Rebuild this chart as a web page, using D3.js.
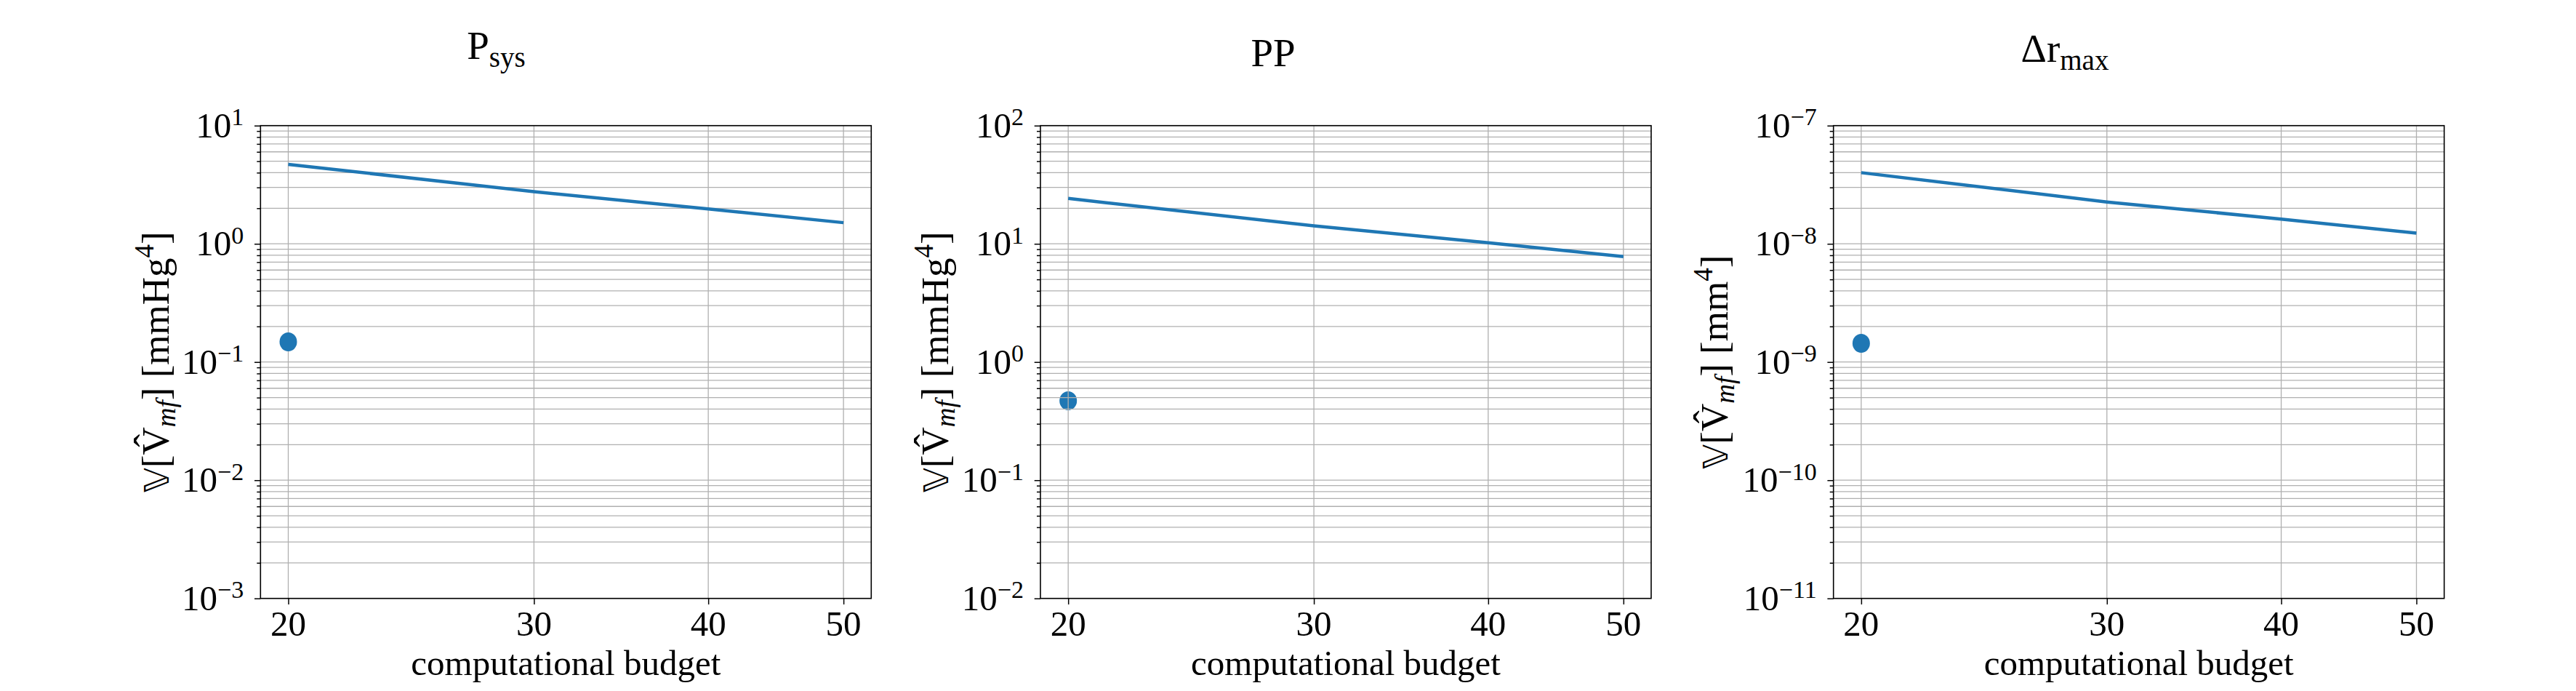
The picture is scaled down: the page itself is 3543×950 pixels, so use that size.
<!DOCTYPE html>
<html>
<head>
<meta charset="utf-8">
<script src="https://cdn.jsdelivr.net/npm/d3@7"></script>
<style>
  html, body { margin: 0; padding: 0; background: #fff; }
  svg { display: block; }
</style>
</head>
<body>
<svg id="chart" width="3543" height="950"></svg>
<script>
// ---------------- data ----------------
const budgets = [20, 30, 40, 50];
const xTickValues = [20, 30, 40, 50];
const dotBudget = [20];

const psysLine = [4.70, 2.76, 1.97, 1.51];
const psysDot = [0.148];
const ppLine = [24.2, 14.2, 10.2, 7.80];
const ppDot = [0.470];
const drLine = [4.0e-8, 2.26e-8, 1.62e-8, 1.23e-8];
const drDot = [1.44e-9];

const psysExp = [-3, 1];
const ppExp = [-2, 2];
const drExp = [-11, -7];

const titleMain = ["P", "PP", "\u0394r"];
const titleSub = ["sys", "", "max"];
const yUnit = ["mmHg", "mmHg", "mm"];
const xLabel = "computational budget";

// ---------------- layout ----------------
const svg = d3.select("#chart");
const serif = "'Liberation Serif', 'Times New Roman', serif";
const W = 840, H = 650, TOP = 172.7;
const panelLeft = [358.3, 1431, 2521.7];
const titleCx = [682.5, 1751, 2840];
const titleBase = [81, 91, 85];
const yLabelOff = [126.6, 126.6, 145.7];
const blue = "#1f77b4";
const gridCol = "#b0b0b0";

const panels = [
  {line: psysLine, dot: psysDot, exp: psysExp, dotUnder: false},
  {line: ppLine, dot: ppDot, exp: ppExp, dotUnder: true},
  {line: drLine, dot: drDot, exp: drExp, dotUnder: false}
];

const lx0 = Math.log10(d3.min(budgets)), lx1 = Math.log10(d3.max(budgets));
const m = 0.05 * (lx1 - lx0);

panels.forEach((p, i) => {
  const g = svg.append("g").attr("transform", `translate(${panelLeft[i]},${TOP})`);
  const x = d3.scaleLog().domain([Math.pow(10, lx0 - m), Math.pow(10, lx1 + m)]).range([0, W]);
  const y = d3.scaleLog().domain([Math.pow(10, p.exp[0]), Math.pow(10, p.exp[1])]).range([H, 0]);

  const majors = d3.range(p.exp[0], p.exp[1] + 1).map(e => Math.pow(10, e));
  const minors = [];
  for (let e = p.exp[0]; e < p.exp[1]; e++) for (let k = 2; k <= 9; k++) minors.push(k * Math.pow(10, e));

  const drawDot = () => g.append("g").selectAll("ellipse").data(dotBudget.map((b, j) => [b, p.dot[j]]))
    .join("ellipse").attr("cx", d => x(d[0])).attr("cy", d => y(d[1])).attr("rx", 12).attr("ry", 13).attr("fill", blue);

  if (p.dotUnder) drawDot();

  // grid
  const grid = g.append("g").attr("stroke", gridCol).attr("stroke-width", 1.3);
  grid.selectAll("line.h").data(majors.concat(minors)).join("line").attr("class", "h")
    .attr("x1", 0).attr("x2", W).attr("y1", d => y(d)).attr("y2", d => y(d));
  grid.selectAll("line.v").data(xTickValues).join("line").attr("class", "v")
    .attr("x1", d => x(d)).attr("x2", d => x(d)).attr("y1", 0).attr("y2", H);

  // line
  g.append("path").datum(budgets.map((b, j) => [b, p.line[j]]))
    .attr("fill", "none").attr("stroke", blue).attr("stroke-width", 4.5)
    .attr("d", d3.line().x(d => x(d[0])).y(d => y(d[1])));

  if (!p.dotUnder) drawDot();

  // axes ticks
  const yMaj = g.append("g").call(d3.axisLeft(y).tickValues(majors).tickSize(8.3).tickFormat(""));
  const yMin = g.append("g").call(d3.axisLeft(y).tickValues(minors).tickSize(5).tickFormat(""));
  const xAx = g.append("g").attr("transform", `translate(0,${H})`)
    .call(d3.axisBottom(x).tickValues(xTickValues).tickSize(8.3).tickFormat(""));
  [yMaj, yMin, xAx].forEach(a => {
    a.select(".domain").remove();
    a.selectAll(".tick line").attr("stroke", "#000").attr("stroke-width", 1.5);
  });

  // frame
  g.append("rect").attr("x", 0).attr("y", 0).attr("width", W).attr("height", H)
    .attr("fill", "none").attr("stroke", "#000").attr("stroke-width", 1.6);

  // y tick labels
  majors.forEach((v, k) => {
    const e = p.exp[0] + k;
    const t = g.append("text").attr("x", -23).attr("y", y(v) + 16)
      .attr("text-anchor", "end").attr("font-family", serif).attr("font-size", 49).attr("fill", "#000");
    t.append("tspan").text("10");
    t.append("tspan").attr("font-size", 34).attr("dy", -16.6).text(e < 0 ? "\u2212" + Math.abs(e) : String(e));
  });

  // x tick labels
  g.append("g").selectAll("text").data(xTickValues).join("text")
    .attr("x", d => x(d)).attr("y", H + 51.5).attr("text-anchor", "middle")
    .attr("font-family", serif).attr("font-size", 49).attr("fill", "#000").text(d => d);

  // x label
  g.append("text").attr("x", W / 2).attr("y", 928 - TOP).attr("text-anchor", "middle")
    .attr("font-family", serif).attr("font-size", 49).attr("fill", "#000").text(xLabel);

  // y label
  const yl = g.append("text").attr("transform", `translate(${-yLabelOff[i]},${H / 2}) rotate(-90)`)
    .attr("text-anchor", "middle").attr("font-family", serif).attr("font-size", 53).attr("fill", "#000");
  yl.append("tspan").attr("font-family", "'DejaVu Sans', sans-serif").attr("font-size", 47).text("\uD835\uDD4D");
  yl.append("tspan").text("[V\u0302");
  yl.append("tspan").attr("font-style", "italic").attr("font-size", 37).attr("dy", 9).text("mf");
  yl.append("tspan").attr("dy", -9).text("] [" + yUnit[i]);
  yl.append("tspan").attr("font-size", 37).attr("dy", -21).text("4");
  yl.append("tspan").attr("dy", 21).text("]");

  // title
  const tt = svg.append("text").attr("x", titleCx[i]).attr("y", titleBase[i]).attr("text-anchor", "middle")
    .attr("font-family", serif).attr("font-size", 55).attr("fill", "#000");
  tt.append("tspan").text(titleMain[i]);
  if (titleSub[i]) tt.append("tspan").attr("font-size", 39).attr("dy", 10.7).text(titleSub[i]);
});
</script>
</body>
</html>
